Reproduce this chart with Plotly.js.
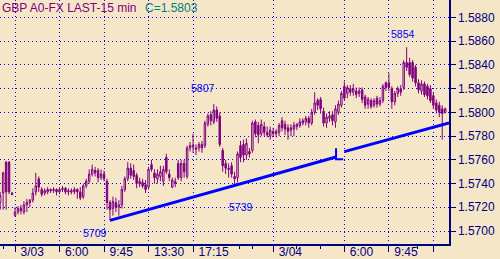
<!DOCTYPE html>
<html><head><meta charset="utf-8">
<script src="https://cdn.plot.ly/plotly-3.0.1.min.js"></script>
<style>html,body{margin:0;padding:0;background:#F5E6C8;}#chart{width:500px;height:259px;}</style>
</head><body><div id="chart"></div>
<script>
const openP = [
1.5724,1.5732,1.5758,1.5758,1.5732,1.5713,1.5716,1.5719,1.5716,1.5722,
1.5724,1.5726,1.5733,1.5744,1.5735,1.5732,1.5733,1.5735,1.5734,1.5735,
1.5733,1.5735,1.5736,1.5733,1.5734,1.5733,1.5735,1.5733,1.5729,1.5738,
1.5742,1.5748,1.5751,1.5751,1.5745,1.5748,1.5742,1.5724,1.5719,1.5724,
1.5720,1.5722,1.5735,1.5744,1.5753,1.5751,1.5747,1.5740,1.5741,1.5739,
1.5737,1.5756,1.5749,1.5744,1.5746,1.5742,1.5762,1.5748,1.5737,1.5740,
1.5757,1.5745,1.5757,1.5746,1.5770,1.5772,1.5770,1.5770,1.5773,1.5772,
1.5790,1.5798,1.5792,1.5802,1.5797,1.5768,1.5757,1.5753,1.5755,1.5746,
1.5745,1.5772,1.5773,1.5764,1.5767,1.5768,1.5792,1.5789,1.5782,1.5788,
1.5783,1.5780,1.5784,1.5782,1.5783,1.5793,1.5790,1.5787,1.5785,1.5786,
1.5788,1.5789,1.5791,1.5792,1.5795,1.5791,1.5800,1.5810,1.5811,1.5801,
1.5791,1.5795,1.5798,1.5792,1.5800,1.5806,1.5822,1.5816,1.5820,1.5817,
1.5818,1.5816,1.5819,1.5813,1.5807,1.5810,1.5806,1.5812,1.5807,1.5810,
1.5825,1.5825,1.5820,1.5809,1.5816,1.5820,1.5821,1.5842,1.5842,1.5842,
1.5838,1.5825,1.5818,1.5824,1.5822,1.5820,1.5814,1.5808,1.5806,1.5803,1.5800];
const highP = [
1.5733,1.5750,1.5759,1.5759,1.5733,1.5720,1.5721,1.5722,1.5725,1.5727,
1.5727,1.5736,1.5749,1.5746,1.5737,1.5736,1.5737,1.5736,1.5737,1.5736,
1.5737,1.5738,1.5737,1.5736,1.5736,1.5737,1.5736,1.5737,1.5740,1.5744,
1.5752,1.5756,1.5754,1.5753,1.5752,1.5751,1.5744,1.5726,1.5729,1.5728,
1.5726,1.5738,1.5746,1.5758,1.5757,1.5756,1.5749,1.5745,1.5744,1.5743,
1.5754,1.5760,1.5752,1.5752,1.5755,1.5755,1.5765,1.5752,1.5745,1.5745,
1.5760,1.5760,1.5760,1.5772,1.5775,1.5782,1.5773,1.5775,1.5776,1.5793,
1.5799,1.5801,1.5807,1.5805,1.5800,1.5770,1.5760,1.5757,1.5758,1.5750,
1.5767,1.5776,1.5777,1.5778,1.5770,1.5793,1.5794,1.5792,1.5794,1.5792,
1.5788,1.5788,1.5787,1.5786,1.5791,1.5796,1.5793,1.5790,1.5790,1.5792,
1.5791,1.5795,1.5795,1.5797,1.5797,1.5803,1.5817,1.5812,1.5813,1.5804,
1.5799,1.5801,1.5801,1.5806,1.5810,1.5818,1.5826,1.5823,1.5823,1.5824,
1.5821,1.5821,1.5821,1.5815,1.5813,1.5812,1.5812,1.5814,1.5813,1.5824,
1.5826,1.5833,1.5822,1.5818,1.5822,1.5823,1.5844,1.5855,1.5846,1.5844,
1.5840,1.5828,1.5827,1.5826,1.5824,1.5823,1.5817,1.5811,1.5809,1.5806,1.5804];
const lowP = [
1.5718,1.5718,1.5718,1.5731,1.5730,1.5712,1.5714,1.5714,1.5714,1.5716,
1.5720,1.5724,1.5730,1.5733,1.5729,1.5730,1.5731,1.5732,1.5732,1.5730,
1.5731,1.5733,1.5731,1.5730,1.5731,1.5731,1.5727,1.5726,1.5727,1.5736,
1.5740,1.5746,1.5746,1.5741,1.5743,1.5742,1.5718,1.5709,1.5713,1.5716,
1.5713,1.5719,1.5733,1.5742,1.5744,1.5743,1.5736,1.5737,1.5736,1.5732,
1.5735,1.5750,1.5740,1.5740,1.5742,1.5738,1.5748,1.5742,1.5736,1.5737,
1.5743,1.5742,1.5745,1.5744,1.5767,1.5766,1.5764,1.5767,1.5766,1.5770,
1.5788,1.5789,1.5790,1.5792,1.5771,1.5750,1.5748,1.5745,1.5745,1.5739,
1.5741,1.5758,1.5758,1.5760,1.5762,1.5766,1.5779,1.5774,1.5780,1.5780,
1.5779,1.5777,1.5779,1.5779,1.5780,1.5784,1.5781,1.5777,1.5780,1.5780,
1.5785,1.5787,1.5789,1.5789,1.5787,1.5789,1.5798,1.5802,1.5799,1.5788,
1.5787,1.5792,1.5789,1.5787,1.5798,1.5804,1.5810,1.5812,1.5814,1.5814,
1.5812,1.5813,1.5808,1.5803,1.5803,1.5803,1.5804,1.5804,1.5805,1.5808,
1.5818,1.5818,1.5803,1.5806,1.5813,1.5814,1.5819,1.5835,1.5830,1.5826,
1.5822,1.5816,1.5815,1.5813,1.5811,1.5808,1.5803,1.5799,1.5796,1.5777,1.5799];
const closeP = [
1.5730,1.5749,1.5733,1.5733,1.5731,1.5716,1.5719,1.5717,1.5722,1.5724,
1.5726,1.5732,1.5738,1.5737,1.5731,1.5734,1.5735,1.5734,1.5735,1.5733,
1.5735,1.5736,1.5733,1.5734,1.5733,1.5735,1.5733,1.5728,1.5738,1.5742,
1.5748,1.5752,1.5749,1.5745,1.5748,1.5744,1.5724,1.5718,1.5725,1.5720,
1.5722,1.5735,1.5744,1.5753,1.5747,1.5746,1.5740,1.5742,1.5738,1.5735,
1.5752,1.5752,1.5745,1.5748,1.5750,1.5752,1.5750,1.5745,1.5743,1.5742,
1.5745,1.5757,1.5750,1.5770,1.5772,1.5771,1.5769,1.5773,1.5770,1.5791,
1.5797,1.5793,1.5802,1.5795,1.5773,1.5755,1.5753,1.5752,1.5748,1.5744,
1.5765,1.5762,1.5764,1.5774,1.5765,1.5791,1.5782,1.5781,1.5790,1.5783,
1.5781,1.5785,1.5782,1.5784,1.5789,1.5787,1.5786,1.5784,1.5787,1.5789,
1.5790,1.5792,1.5793,1.5795,1.5791,1.5800,1.5808,1.5806,1.5803,1.5791,
1.5796,1.5797,1.5793,1.5803,1.5807,1.5816,1.5812,1.5821,1.5817,1.5820,
1.5815,1.5818,1.5811,1.5806,1.5811,1.5805,1.5810,1.5807,1.5810,1.5822,
1.5821,1.5821,1.5809,1.5816,1.5820,1.5817,1.5842,1.5838,1.5832,1.5829,
1.5825,1.5819,1.5824,1.5815,1.5814,1.5810,1.5806,1.5802,1.5800,1.5799,1.5803];

const bars = openP.map((_, i) => i);
const tickBars = [5, 20, 35, 50, 65, 92, 116, 131, 146];
const tickLabels = ["3/03", "6:00", "9:45", "13:30", "17:15", "3/04", "6:00", "9:45", ""];
const minorBars = [1, 80.8, 85.2, 100, 107.8, 140.8];

const trendX = [37, 113.2];
const trendY = [1.5709, 1.57624];
const trend2X = [116, 151.3];
const trend2Y = [1.57669, 1.57911];
const markX = [113.2, 113.2, 115.6];
const markY = [1.57697, 1.57605, 1.57605];

const labelText = ["5709", "5739", "5807", "5854"];
const labelX = [32, 81, 68.4, 135.8];
const labelY = [1.56979, 1.57206, 1.58206, 1.58661];

const titleText = "GBP A0-FX LAST-15 min";
const lastText = "C=1.5803";

const BG = '#F5E6C8', PURPLE = '#800080', NAVY = '#000080', BLUE = '#0000FF';

const traces = [
  {type: 'candlestick', x: bars, open: openP, high: highP, low: lowP, close: closeP,
   increasing: {line: {color: PURPLE, width: 1}, fillcolor: BG},
   decreasing: {line: {color: PURPLE, width: 1}, fillcolor: PURPLE},
   whiskerwidth: 0, hoverinfo: 'skip', showlegend: false},
  {type: 'scatter', mode: 'lines', x: trendX, y: trendY, line: {color: BLUE, width: 3}, hoverinfo: 'skip', showlegend: false},
  {type: 'scatter', mode: 'lines', x: trend2X, y: trend2Y, line: {color: BLUE, width: 3}, hoverinfo: 'skip', showlegend: false},
  {type: 'scatter', mode: 'lines', x: markX, y: markY, line: {color: BLUE, width: 2}, hoverinfo: 'skip', showlegend: false}
];

const annotations = labelText.map((t, k) => ({
  x: labelX[k], y: labelY[k], xref: 'x', yref: 'y', text: t, showarrow: false,
  xanchor: 'center', yanchor: 'middle', font: {size: 10.5, color: BLUE}
}));
annotations.push({x: 0, y: 0.967, xref: 'paper', yref: 'paper', text: titleText, showarrow: false,
  xanchor: 'left', yanchor: 'middle', font: {size: 12, color: PURPLE}});
annotations.push({x: 0.319, y: 0.967, xref: 'paper', yref: 'paper', text: lastText, showarrow: false,
  xanchor: 'left', yanchor: 'middle', font: {size: 12, color: '#008080'}});

const layout = {
  width: 500, height: 259,
  margin: {l: 0, r: 51, t: 0, b: 15, pad: 0},
  paper_bgcolor: BG, plot_bgcolor: BG,
  showlegend: false,
  font: {family: 'Liberation Sans, Arial, sans-serif', size: 12, color: NAVY},
  xaxis: {
    type: 'linear', range: [-0.06, 151.27], rangeslider: {visible: false},
    tickmode: 'array', tickvals: tickBars, ticktext: tickLabels,
    ticks: 'outside', ticklen: 6, tickwidth: 1, tickcolor: NAVY,
    ticklabelposition: 'outside right', ticklabelstandoff: -4, ticklabelshift: 4,
    showline: true, linecolor: NAVY, linewidth: 2, mirror: false,
    showgrid: true, gridcolor: BLUE, gridwidth: 1, griddash: '1px,3px',
    zeroline: false, tickfont: {size: 12, color: NAVY},
    minor: {tickmode: 'array', tickvals: minorBars, ticks: 'outside', ticklen: 3, tickcolor: NAVY, showgrid: false},
    fixedrange: true
  },
  yaxis: {
    side: 'right', range: [1.568904, 1.589476],
    tickmode: 'linear', tick0: 1.57, dtick: 0.002, tickformat: '.4f',
    ticks: 'outside', ticklen: 5, tickwidth: 1, tickcolor: NAVY,
    showline: true, linecolor: NAVY, linewidth: 1.5,
    showgrid: true, gridcolor: BLUE, gridwidth: 1, griddash: '1px,3px',
    zeroline: false, tickfont: {size: 12, color: NAVY},
    fixedrange: true
  },
  annotations: annotations
};

Plotly.newPlot('chart', traces, layout, {displayModeBar: false, staticPlot: true});
</script>
</body></html>
